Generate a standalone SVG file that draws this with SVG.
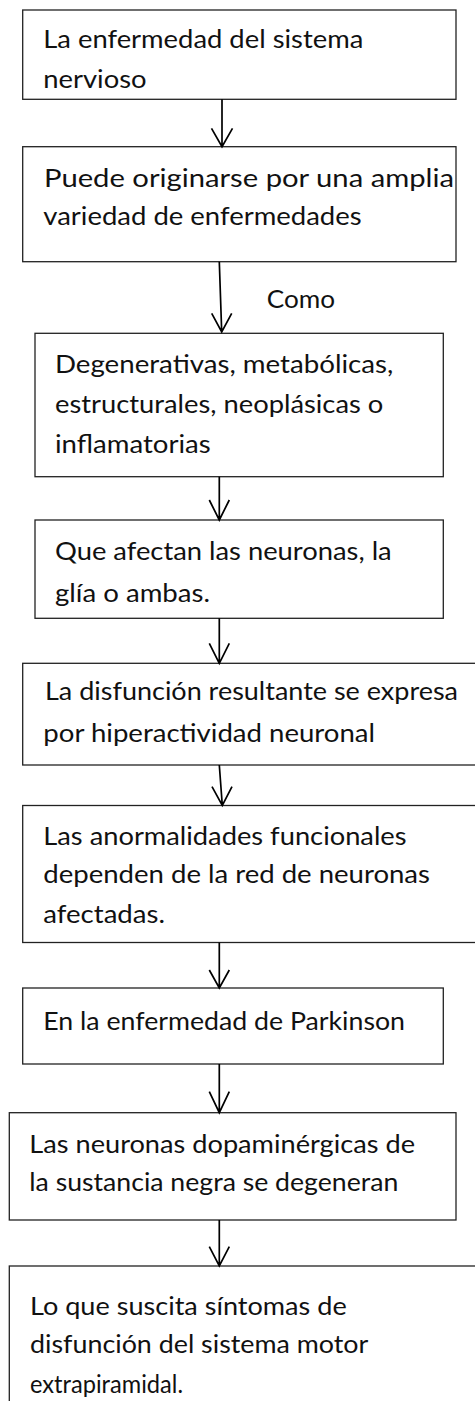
<svg xmlns="http://www.w3.org/2000/svg" width="475" height="1401" viewBox="0 0 475 1401">
<style>
.box{fill:#fff;stroke:#222;stroke-width:1.3}
.t{font-family:Lato,"Open Sans","Liberation Sans",sans-serif;font-size:25.5px;fill:#111}
.c{fill:none;stroke:#000;stroke-width:1.7}
</style>
<rect width="475" height="1401" fill="#fff"/>
<g id="n1"><rect class="box" x="22.7" y="10" width="433.3" height="89.3"/>
<text class="t" x="43.3" y="48.3" textLength="320" lengthAdjust="spacingAndGlyphs">La enfermedad del sistema</text>
<text class="t" x="43.3" y="88.3" textLength="103.3" lengthAdjust="spacingAndGlyphs">nervioso</text></g>
<g id="n2"><rect class="box" x="22.7" y="146.7" width="433.3" height="115"/>
<text class="t" x="44" y="186.7" textLength="410" lengthAdjust="spacingAndGlyphs">Puede originarse por una amplia</text>
<text class="t" x="43.3" y="225" textLength="318.3" lengthAdjust="spacingAndGlyphs">variedad de enfermedades</text></g>
<g id="n3"><rect class="box" x="35" y="333.3" width="408.3" height="143.4"/>
<text class="t" x="55" y="373.3" textLength="338.3" lengthAdjust="spacingAndGlyphs">Degenerativas, metabólicas,</text>
<text class="t" x="55" y="413.3" textLength="328.3" lengthAdjust="spacingAndGlyphs">estructurales, neoplásicas o</text>
<text class="t" x="55" y="453.3" textLength="155.7" lengthAdjust="spacingAndGlyphs">inflamatorias</text></g>
<g id="n4"><rect class="box" x="35" y="520" width="408.3" height="98.3"/>
<text class="t" x="55" y="560" textLength="336.7" lengthAdjust="spacingAndGlyphs">Que afectan las neuronas, la</text>
<text class="t" x="55" y="601.7" textLength="155" lengthAdjust="spacingAndGlyphs">glía o ambas.</text></g>
<g id="n5"><rect class="box" x="22.7" y="663.3" width="460" height="101.7"/>
<text class="t" x="45" y="700" textLength="413" lengthAdjust="spacingAndGlyphs">La disfunción resultante se expresa</text>
<text class="t" x="43.3" y="741.7" textLength="331.7" lengthAdjust="spacingAndGlyphs">por hiperactividad neuronal</text></g>
<g id="n6"><rect class="box" x="22.7" y="805.5" width="460" height="137"/>
<text class="t" x="43.3" y="845" textLength="363.3" lengthAdjust="spacingAndGlyphs">Las anormalidades funcionales</text>
<text class="t" x="43.3" y="883.3" textLength="386.7" lengthAdjust="spacingAndGlyphs">dependen de la red de neuronas</text>
<text class="t" x="43.3" y="923.3" textLength="121.7" lengthAdjust="spacingAndGlyphs">afectadas.</text></g>
<g id="n7"><rect class="box" x="22.7" y="988" width="420.6" height="76"/>
<text class="t" x="43.3" y="1030" textLength="361.7" lengthAdjust="spacingAndGlyphs">En la enfermedad de Parkinson</text></g>
<g id="n8"><rect class="box" x="9.3" y="1112.7" width="446.7" height="107.3"/>
<text class="t" x="29.3" y="1153" textLength="385.7" lengthAdjust="spacingAndGlyphs">Las neuronas dopaminérgicas de</text>
<text class="t" x="29.3" y="1191" textLength="369" lengthAdjust="spacingAndGlyphs">la sustancia negra se degeneran</text></g>
<g id="n9"><rect class="box" x="9.3" y="1266" width="475" height="150"/>
<text class="t" x="30" y="1315" textLength="316.7" lengthAdjust="spacingAndGlyphs">Lo que suscita síntomas de</text>
<text class="t" x="30" y="1353.3" textLength="338.3" lengthAdjust="spacingAndGlyphs">disfunción del sistema motor</text>
<text class="t" x="30" y="1393.3" textLength="153" lengthAdjust="spacingAndGlyphs">extrapiramidal.</text></g>
<g id="connectors">
<path class="c" d="M222 99.3V146.7M211.5 128.3L222 146.7L232.5 128.3"/>
<path class="c" d="M219.3 261.7L221.7 332M211.7 313.3L221.7 332L231.7 313.3"/>
<text class="t" x="266.7" y="308.3" textLength="68.3" lengthAdjust="spacingAndGlyphs">Como</text>
<path class="c" d="M219.3 476.7V520M209.3 500L219.3 520L229.3 500"/>
<path class="c" d="M219.3 618.3V663.3M209.3 643.3L219.3 663.3L229.3 643.3"/>
<path class="c" d="M219.3 765L222.3 805.5M212 786.7L222.3 805.5L232 786.7"/>
<path class="c" d="M219.3 942.5V988M209.3 970L219.3 988L229.3 970"/>
<path class="c" d="M219.3 1064V1112.7M209.3 1091.7L219.3 1112.7L229.3 1091.7"/>
<path class="c" d="M219.3 1220V1266M209.3 1246.7L219.3 1266L229.3 1246.7"/>
</g>
</svg>
